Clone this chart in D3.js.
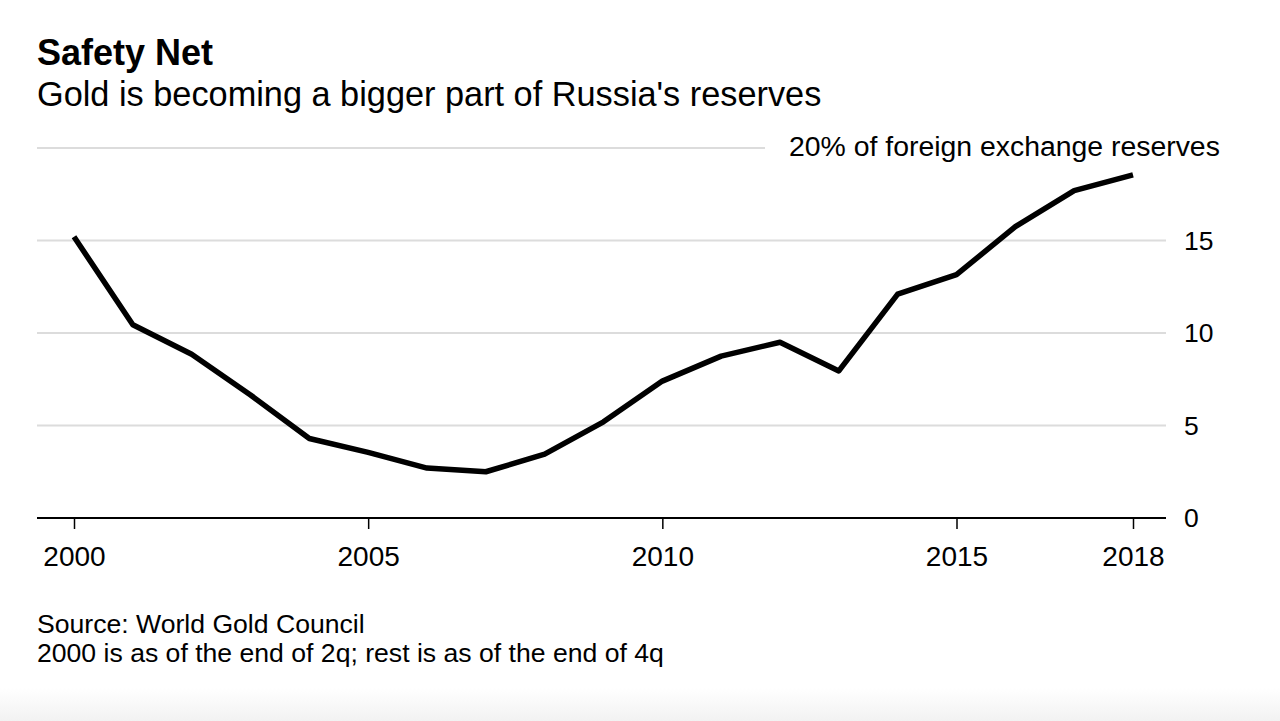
<!DOCTYPE html>
<html><head><meta charset="utf-8">
<script src="https://cdn.jsdelivr.net/npm/d3@7"></script>
<style>
html,body{margin:0;padding:0;background:#fff;}
text{font-family:"Liberation Sans",Arial,Helvetica,sans-serif;fill:#000;}
</style></head>
<body><svg id="c" width="1280" height="721"></svg>
<script>
const years = [2000,2001,2002,2003,2004,2005,2006,2007,2008,2009,2010,2011,2012,2013,2014,2015,2016,2017,2018];
const goldShare = [15.2,10.45,8.85,6.65,4.3,3.55,2.7,2.5,3.45,5.2,7.4,8.75,9.5,7.95,12.1,13.15,15.75,17.7,18.55];
const xTicks = [2000,2005,2010,2015,2018];
const yTicks = [0,5,10,15,20];
const title = "Safety Net";
const subtitle = "Gold is becoming a bigger part of Russia's reserves";
const topLabel = "20% of foreign exchange reserves";
const notes = ["Source: World Gold Council","2000 is as of the end of 2q; rest is as of the end of 4q"];

const svg = d3.select("#c");
const defs = svg.append("defs");
const grad = defs.append("linearGradient").attr("id","bg").attr("x1",0).attr("y1",0).attr("x2",0).attr("y2",1);
grad.append("stop").attr("offset","0%").attr("stop-color","#ffffff");
grad.append("stop").attr("offset","100%").attr("stop-color","#f2f2f2");
svg.append("rect").attr("x",0).attr("y",688).attr("width",1280).attr("height",33).attr("fill","url(#bg)");

const x = d3.scaleLinear().domain([2000,2018]).range([74,1133]);
const y = d3.scaleLinear().domain([0,20]).range([518,148]);
const left = 37, right = 1166;

// gridlines
svg.append("g").selectAll("line").data(yTicks.filter(d=>d>0)).join("line")
  .attr("x1",left).attr("x2",d=>d===20?765:right)
  .attr("y1",d=>y(d)).attr("y2",d=>y(d))
  .attr("stroke","#dcdcdc").attr("stroke-width",2);

// y labels
svg.append("g").selectAll("text").data(yTicks).join("text")
  .attr("x",d=>d===20?789:1184).attr("y",d=>y(d)+(d===20?8:9))
  .attr("font-size",d=>d===20?28.4:26.5).text(d=>d===20?topLabel:d);

// x axis
const xAxis = d3.axisBottom(x).tickValues(xTicks).tickFormat(d3.format("d")).tickSize(11).tickPadding(17);
const gx = svg.append("g").attr("transform","translate(0,518)").call(xAxis);
gx.select(".domain").remove();
gx.selectAll(".tick line").attr("stroke","#000").attr("stroke-width",1.5);
gx.selectAll(".tick text").attr("font-size",28).attr("font-family","'Liberation Sans',Arial,sans-serif").attr("fill","#000");
gx.append("line").attr("x1",left).attr("x2",right).attr("y1",0).attr("y2",0).attr("stroke","#000").attr("stroke-width",2);

// line
const data = years.map((yr,i)=>({yr,v:goldShare[i]}));
svg.append("path").datum(data)
  .attr("d",d3.line().x(d=>x(d.yr)).y(d=>y(d.v)))
  .attr("fill","none").attr("stroke","#000").attr("stroke-width",5.5)
  .attr("stroke-linejoin","round").attr("stroke-linecap","butt");

// titles
svg.append("text").attr("x",37).attr("y",65).attr("font-size",36).attr("font-weight","bold").text(title);
svg.append("text").attr("x",37).attr("y",106).attr("font-size",34.3).text(subtitle);
svg.append("g").selectAll("text").data(notes).join("text")
  .attr("x",37).attr("y",(d,i)=>633+i*29).attr("font-size",26.6).text(d=>d);
</script></body></html>
